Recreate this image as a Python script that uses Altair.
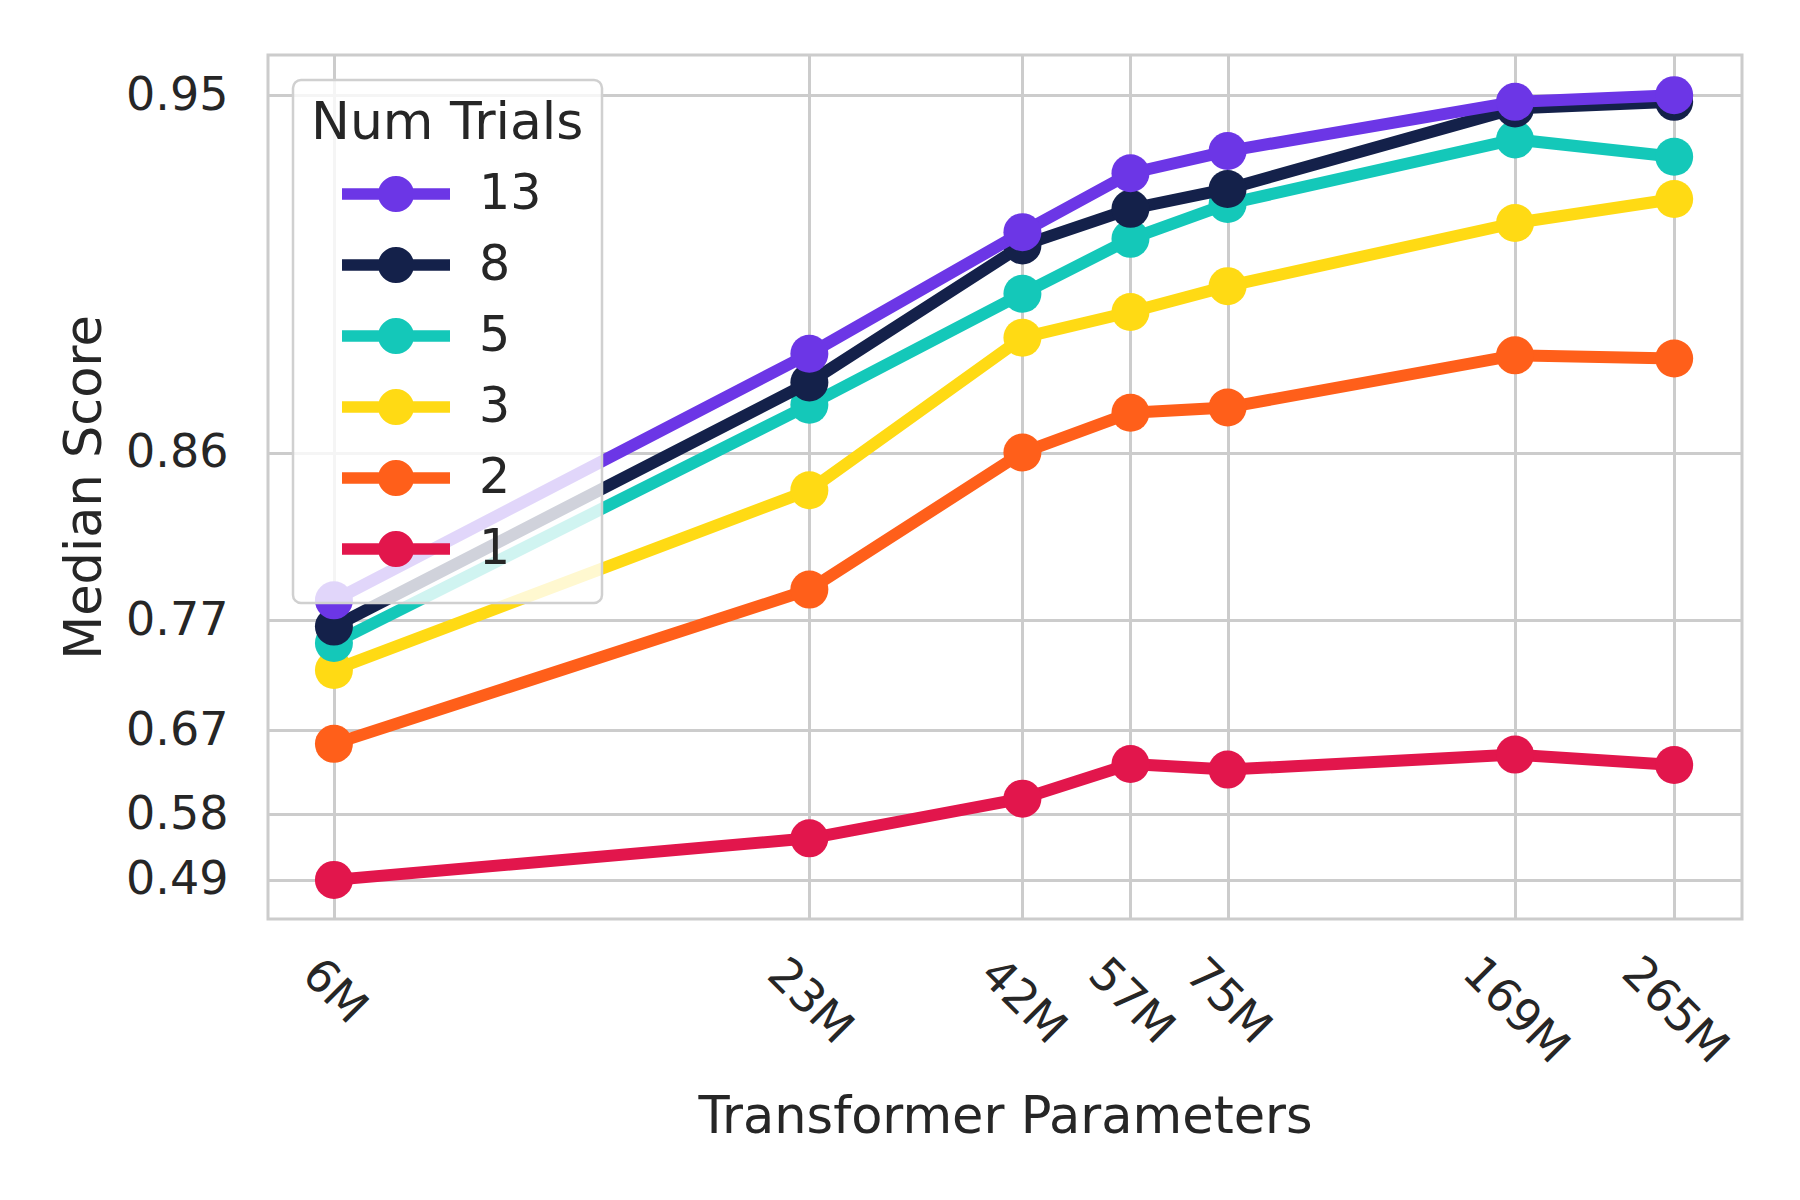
import altair as alt
import pandas as pd

# ---- data ----
params = [6, 23, 42, 57, 75, 169, 265]          # transformer parameters (millions)
trials_order = ["13", "8", "5", "3", "2", "1"]  # legend order
draw_order = ["1", "2", "3", "5", "8", "13"]    # plotting order (last on top)

score_1 = [0.490, 0.549, 0.599, 0.638, 0.632, 0.648, 0.637]
score_2 = [0.659, 0.784, 0.856, 0.872, 0.874, 0.892, 0.891]
score_3 = [0.726, 0.839, 0.8975, 0.905, 0.912, 0.927, 0.932]
score_5 = [0.747, 0.875, 0.910, 0.9235, 0.931, 0.943, 0.940]
score_8 = [0.759, 0.883, 0.922, 0.930, 0.934, 0.948, 0.949]
score_13 = [0.777, 0.8925, 0.925, 0.937, 0.941, 0.949, 0.950]

# y tick positions (score) and their printed labels
y_tick_values = [0.49, 0.58, 0.6723, 0.7635, 0.856, 0.95]
y_tick_labels = ["0.49", "0.58", "0.67", "0.77", "0.86", "0.95"]

colors = ["#6C36E6", "#14214A", "#14C8B9", "#FFDA14", "#FF5F1A", "#E2164C"]

series = {"1": score_1, "2": score_2, "3": score_3, "5": score_5, "8": score_8, "13": score_13}
rows = []
for t in draw_order:
    for p, s in zip(params, series[t]):
        rows.append({"trials": t, "params": p, "score": s})
df = pd.DataFrame(rows)

TXT = "#262626"
GRID = "#cccccc"
FONT = "DejaVu Sans"

xscale = alt.Scale(type="log", domain=[4.98, 321], nice=False)
yscale = alt.Scale(type="log", domain=[0.0444, 0.5726], nice=False, reverse=True)

err_ticks = [round(1 - v, 4) for v in y_tick_values]
y_label_expr = " : ".join(
    f"abs(datum.value - {e}) < 0.001 ? '{lab}'" for e, lab in zip(err_ticks, y_tick_labels)
) + " : ''"

xaxis = alt.Axis(
    title="Transformer Parameters",
    values=params,
    labelExpr="datum.value + 'M'",
    labelAngle=45,
    labelAlign="center",
    labelBaseline="middle",
    labelPadding={"condition": [{"test": "datum.value < 10", "value": 72},
                                {"test": "datum.value > 100", "value": 91}],
                  "value": 82},
    labelOverlap=False,
    labelFlush=False,
    labelBound=False,
    ticks=False,
    tickSize=0,
    domain=False,
    grid=True,
    gridColor=GRID,
    gridWidth=3,
    labelFontSize=46,
    labelColor=TXT,
    labelFont=FONT,
    titleFontSize=51,
    titleFontWeight="normal",
    titleColor=TXT,
    titleFont=FONT,
    titleY=213,
    titleBaseline="alphabetic",
)

yaxis = alt.Axis(
    title="Median Score",
    values=err_ticks,
    labelExpr=y_label_expr,
    labelOverlap=False,
    labelFlush=False,
    labelBound=False,
    labelPadding=40,
    labelBaseline="middle",
    ticks=False,
    tickSize=0,
    domain=False,
    grid=True,
    gridColor=GRID,
    gridWidth=3,
    labelFontSize=46,
    labelColor=TXT,
    labelFont=FONT,
    titleFontSize=51,
    titleFontWeight="normal",
    titleColor=TXT,
    titleFont=FONT,
    titleX=-168,
    titleY=432,
    titleAlign="center",
    titleBaseline="alphabetic",
    titleAngle=270,
)

# legend symbol: line + filled disc (built from strokes only)
sym_path = (
    "M-2.16,0L2.16,0"
    "M0.49,0A0.49,0.49,0,1,1,-0.49,0A0.49,0.49,0,1,1,0.49,0"
    "M0.2,0A0.2,0.2,0,1,1,-0.2,0A0.2,0.2,0,1,1,0.2,0"
)

leg = alt.Legend(
    title="Num Trials",
    orient="none",
    legendX=25,
    legendY=25,
    padding=18,
    titlePadding=13,
    rowPadding=-1,
    symbolType=sym_path,
    symbolSize=2500,
    symbolStrokeWidth=11.5,
    symbolOpacity=1,
    symbolOffset=54,
    labelOffset=52,
    labelFontSize=49,
    labelColor=TXT,
    labelFont=FONT,
    titleFontSize=52,
    titleFontWeight="normal",
    titleColor=TXT,
    titleFont=FONT,
    titleLimit=600,
    fillColor="rgba(255,255,255,0.8)",
    strokeColor="#d0d0d0",
    cornerRadius=8,
)

cscale = alt.Scale(domain=trials_order, range=colors)

base = alt.Chart(df)
layers = []
for t in draw_order:
    sub = base.transform_filter(alt.datum.trials == t)
    xe = alt.X("params:Q", scale=xscale, axis=xaxis)
    ye = alt.Y("err:Q", scale=yscale, axis=yaxis)
    layers.append(
        sub.mark_line(strokeWidth=12, strokeJoin="round").encode(
            x=xe, y=ye, color=alt.Color("trials:N", scale=cscale, legend=leg)
        )
    )
    layers.append(
        sub.mark_circle(size=1444, opacity=1).encode(
            x=xe, y=ye, color=alt.Color("trials:N", scale=cscale, legend=None)
        )
    )

chart = (
    alt.layer(*layers)
    .transform_calculate(err="1 - datum.score")
    .properties(
        width=1474,
        height=864,
        autosize=alt.AutoSizeParams(type="none"),
        padding={"left": 260, "top": 47, "right": 50, "bottom": 273},
        background="white",
    )
    .configure_view(stroke=GRID, strokeWidth=3)
    .configure_legend(strokeWidth=2.5)
)

chart.save("out.html", embed_options={"renderer": "svg", "actions": False})
